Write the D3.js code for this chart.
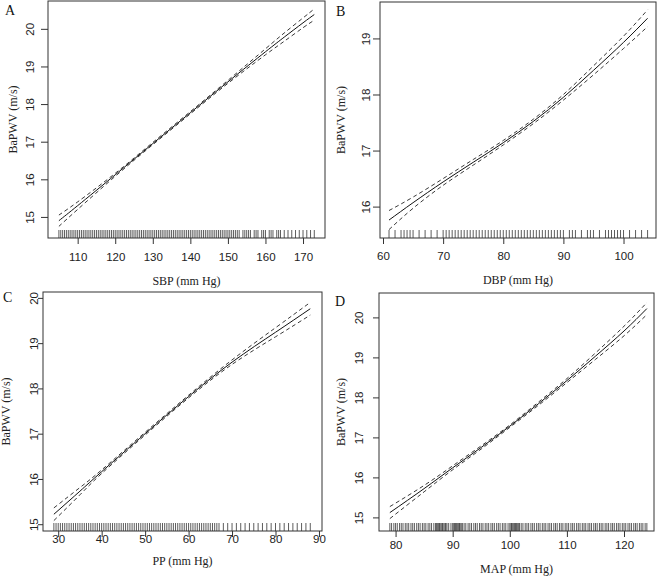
<!DOCTYPE html>
<html>
<head>
<meta charset="utf-8">
<script src="https://cdn.jsdelivr.net/npm/d3@7"></script>
<style>
  body { margin: 0; background: #fff; }
</style>
</head>
<body>
<div class="canvas"></div>
<script>

// ---- data ----
// A: SBP
const sbpX   = [105, 110, 120, 130, 140, 150, 160, 165, 170, 173];
const sbpFit = [14.90, 15.30, 16.12, 16.95, 17.77, 18.59, 19.39, 19.78, 20.16, 20.38];
const sbpHalf = [0.15, 0.10, 0.04, 0.03, 0.03, 0.04, 0.08, 0.11, 0.13, 0.15];
const sbpRug = [105,105.5,106,106.5,107,107.5,108,108.5,109,109.5,110,110.5,111,111.5,112,112.5,113,113.5,114,114.5,
  115,115.5,116,116.5,117,117.5,118,118.5,119,119.5,120,120.5,121,121.5,122,122.5,123,123.5,124,124.5,
  125,125.5,126,126.5,127,127.5,128,128.5,129,129.5,130,130.5,131,131.5,132,132.5,133,133.5,134,134.5,
  135,135.5,136,136.5,137,137.5,138,138.5,139,139.5,140,140.5,141,141.5,142,142.5,143,143.5,144,144.5,
  145,145.5,146,146.5,147,147.5,148,148.5,149,149.5,150,150.5,151,151.5,152,152.5,153,154,154.5,155,155.5,
  156,157,157.5,158,159,159.5,160,161,161.5,162,163,163.5,164,165,166,167,168,169,170,171,172,173];

// B: DBP
const dbpX   = [61, 65, 70, 75, 80, 85, 90, 95, 100, 104];
const dbpFit = [15.76, 16.07, 16.44, 16.79, 17.14, 17.52, 17.95, 18.43, 18.93, 19.36];
const dbpHalf = [0.17, 0.10, 0.06, 0.05, 0.04, 0.04, 0.05, 0.08, 0.11, 0.15];
const dbpRug = [61,62,63,63.5,64,64.5,65,66,67,68,69,70,70.5,71,71.5,72,72.5,73,73.5,74,74.5,75,75.5,76,76.5,
  77,77.5,78,78.5,79,79.5,80,80.5,81,81.5,82,82.5,83,83.5,84,84.5,85,85.5,86,86.5,87,87.5,88,88.5,89,89.5,
  90,91,91.5,92,93,94,94.5,95,96,97,97.5,98,98.5,99,99.5,100,101,102,103,104];

// C: PP
const ppX   = [29, 35, 40, 50, 60, 70, 80, 88];
const ppFit = [15.22, 15.73, 16.16, 17.00, 17.82, 18.58, 19.24, 19.76];
const ppHalf = [0.14, 0.08, 0.04, 0.03, 0.03, 0.05, 0.10, 0.14];
const ppRug = [29,29.5,30,30.5,31,31.5,32,32.5,33,33.5,34,34.5,35,35.5,36,36.5,37,37.5,38,38.5,39,39.5,
  40,40.5,41,41.5,42,42.5,43,43.5,44,44.5,45,45.5,46,46.5,47,47.5,48,48.5,49,49.5,50,50.5,51,51.5,52,52.5,
  53,53.5,54,54.5,55,55.5,56,56.5,57,57.5,58,58.5,59,59.5,60,60.5,61,61.5,62,62.5,63,63.5,64,64.5,65,65.5,
  66,66.5,67,68,69,70,71,72,73,74,75,76,77,78,79,80,81,82,83,84,85,86,87,88];

// D: MAP
const mapX   = [79, 85, 90, 95, 100, 105, 110, 115, 120, 124];
const mapFit = [15.12, 15.72, 16.24, 16.75, 17.28, 17.84, 18.42, 19.03, 19.66, 20.22];
const mapHalf = [0.15, 0.08, 0.05, 0.04, 0.03, 0.04, 0.05, 0.08, 0.12, 0.15];
const mapRug = [79,79.3,79.7,80,80.3,80.7,81,81.3,81.7,82,82.3,82.7,83,83.3,83.7,84,84.3,84.7,85,85.3,85.7,
  86,86.3,86.7,87,87.2,87.3,87.5,87.7,87.8,88,88.2,88.3,88.5,88.7,88.8,89,89.3,89.7,90,90.2,90.3,90.5,90.7,
  90.8,91,91.2,91.3,91.5,91.7,92,92.3,92.7,93,93.3,93.7,94,94.3,94.7,95,95.3,95.7,96,96.3,96.7,97,97.3,97.7,
  98,98.3,98.7,99,99.3,99.7,100,100.2,100.3,100.5,100.7,100.8,101,101.2,101.3,101.5,101.7,102,102.3,102.7,
  103,103.3,103.7,104,104.3,104.7,105,105.3,105.7,106,106.3,106.7,107,107.3,107.7,108,108.3,108.7,109,109.3,
  109.7,110,110.3,110.7,111,111.3,111.7,112,112.3,112.7,113,113.3,113.7,114,114.3,114.7,115,115.3,115.7,116,
  116.3,116.7,117,117.3,117.7,118,118.3,118.7,119,119.3,119.7,120,120.3,120.7,121,121.3,121.7,122,122.3,
  122.7,123,123.3,123.7,124];

const letters = ['A', 'B', 'C', 'D'];
const xTitles = ['SBP (mm Hg)', 'DBP (mm Hg)', 'PP (mm Hg)', 'MAP (mm Hg)'];
const yTitle = 'BaPWV (m/s)';
const xTickVals = [[110, 120, 130, 140, 150, 160, 170], [60, 70, 80, 90, 100],
                   [30, 40, 50, 60, 70, 80, 90], [80, 90, 100, 110, 120]];
const yTickVals = [[15, 16, 17, 18, 19, 20], [16, 17, 18, 19],
                   [15, 16, 17, 18, 19, 20], [15, 16, 17, 18, 19, 20]];

// layout (pixels) + axis ranges
const layout = [
  { l: 48,  r: 325, t: 1,   b: 238, xd: [102.1, 175.85], yd: [14.44, 20.74], ytx: -18, ytt: -35, xl: 21, xt: 43, lx: 5,   ly: 15, ytick: 7 },
  { l: 380, r: 656, t: 2,   b: 238, xd: [59.5, 105.4],   yd: [15.44, 19.65], ytx: -14, ytt: -39, xl: 20, xt: 42, lx: 336, ly: 16, ytick: 7 },
  { l: 43,  r: 322, t: 292, b: 531, xd: [26.5, 90.7],    yd: [14.85, 20.13], ytx: -9,  ytt: -37, xl: 10, xt: 30, lx: 3,   ly: 302, ytick: 5 },
  { l: 379, r: 654, t: 293, b: 531, xd: [77.1, 125.25],  yd: [14.66, 20.61], ytx: -20, ytt: -38, xl: 16, xt: 38, lx: 335, ly: 306, ytick: 6 }
];

const panels = [
  { x: sbpX, fit: sbpFit, half: sbpHalf, rug: sbpRug },
  { x: dbpX, fit: dbpFit, half: dbpHalf, rug: dbpRug },
  { x: ppX,  fit: ppFit,  half: ppHalf,  rug: ppRug },
  { x: mapX, fit: mapFit, half: mapHalf, rug: mapRug }
];

const sans = '"Liberation Sans", Arial, sans-serif';
const serif = '"Liberation Serif", "Times New Roman", serif';

const svg = d3.select('.canvas')
  .append('svg')
    .attr('width', 658)
    .attr('height', 576);

panels.forEach((p, i) => {
  const L = layout[i];
  const w = L.r - L.l, h = L.b - L.t;

  const x = d3.scaleLinear().domain(L.xd).range([0, w]);
  const y = d3.scaleLinear().domain(L.yd).range([h, 0]);

  const g = svg.append('g').attr('transform', `translate(${L.l},${L.t})`);

  // rug
  g.selectAll('line.rug')
    .data(p.rug)
    .enter()
    .append('line')
      .attr('class', 'rug')
      .attr('x1', d => x(d)).attr('x2', d => x(d))
      .attr('y1', h).attr('y2', h - 8)
      .attr('stroke', '#333')
      .attr('stroke-width', 0.8);

  const pts = p.x.map((v, j) => ({ x: v, fit: p.fit[j], lo: p.fit[j] - p.half[j], hi: p.fit[j] + p.half[j] }));

  const line = key => d3.line()
    .x(d => x(d.x))
    .y(d => y(d[key]))
    .curve(d3.curveNatural);

  g.append('path').datum(pts)
    .attr('d', line('fit'))
    .attr('fill', 'none').attr('stroke', '#111').attr('stroke-width', 1);

  ['lo', 'hi'].forEach(k => {
    g.append('path').datum(pts)
      .attr('d', line(k))
      .attr('fill', 'none').attr('stroke', '#222').attr('stroke-width', 0.9)
      .attr('stroke-dasharray', '4,3');
  });

  // axes
  const xa = g.append('g').attr('transform', `translate(0,${h})`)
    .call(d3.axisBottom(x).tickValues(xTickVals[i]).tickFormat(d3.format('d'))
      .tickSize(6).tickPadding(L.xl - 12));
  xa.select('.domain').remove();
  xa.selectAll('.tick line').attr('stroke', '#333');
  xa.selectAll('.tick text')
    .attr('font-family', sans).attr('font-size', 11.5).attr('fill', '#222');

  const ya = g.append('g')
    .call(d3.axisLeft(y).tickValues(yTickVals[i]).tickFormat(d3.format('d')).tickSize(L.ytick));
  ya.select('.domain').remove();
  ya.selectAll('.tick line').attr('stroke', '#333');
  ya.selectAll('.tick text')
    .attr('x', null).attr('dy', null)
    .attr('text-anchor', 'middle')
    .attr('font-family', sans).attr('font-size', 11.5).attr('fill', '#222')
    .attr('transform', `translate(${L.ytx + 4},0) rotate(-90)`);

  // box
  g.append('rect')
    .attr('x', 0).attr('y', 0).attr('width', w).attr('height', h)
    .attr('fill', 'none').attr('stroke', '#333').attr('stroke-width', 1);

  // titles
  g.append('text')
    .attr('x', w / 2).attr('y', h + L.xt + 4)
    .attr('text-anchor', 'middle')
    .attr('font-family', serif).attr('font-size', 12).attr('fill', '#222')
    .text(xTitles[i]);

  g.append('text')
    .attr('transform', `translate(${L.ytt + 4},${h / 2}) rotate(-90)`)
    .attr('text-anchor', 'middle')
    .attr('font-family', serif).attr('font-size', 12).attr('fill', '#222')
    .text(yTitle);

  svg.append('text')
    .attr('x', L.lx).attr('y', L.ly)
    .attr('font-family', serif).attr('font-size', 14).attr('fill', '#111')
    .text(letters[i]);
});

</script>
</body>
</html>
